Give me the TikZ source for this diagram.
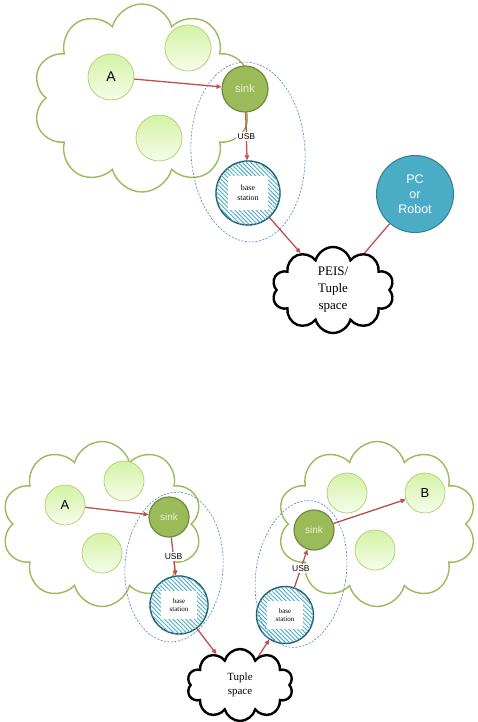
\documentclass[tikz,border=0pt]{standalone}
\usepackage{fontspec}
\setmainfont{Liberation Serif}
\setsansfont{Liberation Sans}
\usetikzlibrary{shapes.geometric, shapes.symbols, arrows.meta, patterns.meta, positioning}
\definecolor{leafline}{RGB}{155, 187, 89}
\definecolor{moteline}{RGB}{178, 212, 120}
\definecolor{motetop}{RGB}{212, 242, 164}
\definecolor{motebottom}{RGB}{246, 253, 236}
\definecolor{sinkfill}{RGB}{155, 187, 89}
\definecolor{sinkline}{RGB}{113, 137, 63}
\definecolor{sinktext}{RGB}{235, 241, 222}
\definecolor{hatchblue}{RGB}{75, 172, 198}
\definecolor{stationline}{RGB}{28, 88, 104}
\definecolor{pcfill}{RGB}{75, 172, 198}
\definecolor{pcline}{RGB}{53, 125, 145}
\definecolor{linkred}{RGB}{192, 80, 77}
\definecolor{groupblue}{RGB}{79, 129, 189}

\begin{document}
\begin{tikzpicture}[x=1pt, y=-1pt,
    region/.style={cloud, cloud puffs=10, cloud puff arc=150, aspect=1.15, draw=leafline, line width=1.4pt, inner sep=0pt},
    space/.style={cloud, cloud puffs=10, cloud puff arc=150, aspect=1.4, draw=black, line width=2.4pt, fill=white, inner sep=0pt, align=center},
    mote/.style={circle, draw=moteline, line width=0.8pt, top color=motetop, bottom color=motebottom, inner sep=0pt},
    sinknode/.style={circle, draw=sinkline, line width=1.2pt, fill=sinkfill, text=sinktext, inner sep=0pt},
    station/.style={circle, draw=stationline, line width=1.4pt, fill=white,
        postaction={pattern={Lines[angle=-45, distance=3pt, line width=0.9pt]}, pattern color=hatchblue}, inner sep=0pt},
    stationtext/.style={fill=white, align=center, inner sep=0pt, font=\fontsize{8}{9.5}\selectfont},
    group/.style={ellipse, draw=groupblue, line width=0.6pt, dash pattern=on 2pt off 1.5pt, inner sep=0pt},
    usb/.style={fill=white, inner sep=1.5pt, font=\fontsize{8.5}{10}\sffamily},
    link/.style={draw=linkred, line width=1.3pt, -{Triangle[length=5pt, width=4.5pt]}}
]
    \useasboundingbox (0,0) rectangle (478,722);

    % Top: one network, sink and base station to the PEIS tuple space
    \node[region, minimum width=218pt, minimum height=188pt] (net1) at (142,98) {};
    \node[mote, minimum size=46pt, font=\fontsize{14}{16}\sffamily] (a1) at (111,77) {A};
    \node[mote, minimum size=46pt] (m1) at (188,48) {};
    \node[mote, minimum size=46pt] (m2) at (159,138) {};
    \node[sinknode, minimum size=46pt, font=\fontsize{11}{13}\sffamily] (sink1) at (245,89) {sink};
    \node[station, minimum size=64pt] (bs1) at (248,193) {};
    \node[stationtext, minimum width=40pt, minimum height=33pt] (bs1txt) at (bs1) {base\\station};
    \node[group, minimum width=114pt, minimum height=180pt, rotate=3] (grp1) at (248,152) {};
    \node[space, minimum width=122pt, minimum height=86pt, font=\fontsize{13}{17}\selectfont] (peis) at (333,290) {PEIS/\\Tuple\\space};
    \node[circle, draw=pcline, line width=1pt, fill=pcfill, text=white, minimum size=77pt, inner sep=0pt,
        align=center, font=\fontsize{12.5}{15}\sffamily] (pc) at (415,194) {PC\\or\\Robot};

    \draw[link] (a1) -- (sink1);
    \draw[link] (sink1) -- node[usb] {USB} (bs1);
    \draw[link] (bs1) -- (peis);
    \draw[draw=linkred, line width=1.3pt] (peis) -- (pc);

    % Bottom: two networks joined by the tuple space
    \node[region, minimum width=200pt, minimum height=165pt] (net2) at (102,524) {};
    \node[region, minimum width=199pt, minimum height=165pt] (net3) at (377,524) {};
    \node[mote, minimum size=40pt, font=\fontsize{13}{15}\sffamily] (a2) at (65,505) {A};
    \node[mote, minimum size=40pt] (m3) at (124,481) {};
    \node[mote, minimum size=40pt] (m4) at (102,553) {};
    \node[mote, minimum size=40pt, font=\fontsize{13}{15}\sffamily] (b2) at (425,493) {B};
    \node[mote, minimum size=40pt] (m5) at (347,493) {};
    \node[mote, minimum size=40pt] (m6) at (375,550) {};
    \node[sinknode, minimum size=40pt, font=\fontsize{10}{12}\sffamily] (sink2) at (169,517) {sink};
    \node[sinknode, minimum size=40pt, font=\fontsize{10}{12}\sffamily] (sink3) at (314,530) {sink};
    \node[station, minimum size=58pt] (bs2) at (179,605) {};
    \node[stationtext, minimum width=36pt, minimum height=28pt, font=\fontsize{7}{8.5}\selectfont] (bs2txt) at (bs2) {base\\station};
    \node[station, minimum size=57pt] (bs3) at (285,615) {};
    \node[stationtext, minimum width=36pt, minimum height=28pt, font=\fontsize{7}{8.5}\selectfont] (bs3txt) at (bs3) {base\\station};
    \node[group, minimum width=98pt, minimum height=150pt, rotate=-4] (grp2) at (174,567) {};
    \node[group, minimum width=90pt, minimum height=148pt, rotate=-9] (grp3) at (301,574) {};
    \node[space, minimum width=106pt, minimum height=72pt, font=\fontsize{11}{14}\selectfont] (tuple) at (240,685) {Tuple\\space};

    \draw[link] (a2) -- (sink2);
    \draw[link] (sink2) -- node[usb] {USB} (bs2);
    \draw[link] (bs2) -- (tuple);
    \draw[link] (tuple) -- (bs3);
    \draw[link] (bs3) -- node[usb] {USB} (sink3);
    \draw[link] (sink3) -- (b2);
\end{tikzpicture}
\end{document}
